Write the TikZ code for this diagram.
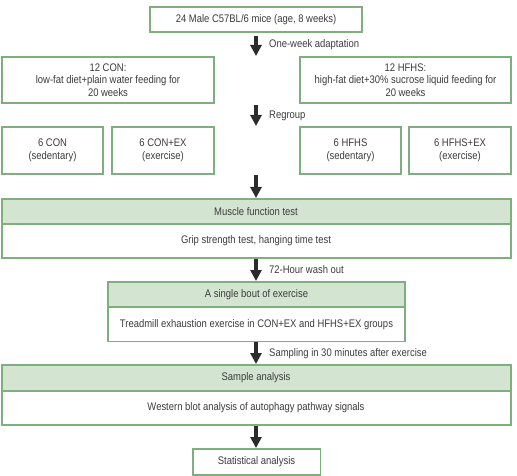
\documentclass[tikz,border=0pt]{standalone}
\usepackage{fontspec}
\setmainfont{Liberation Sans}[FakeStretch=0.86]
\usetikzlibrary{arrows.meta}
\definecolor{bgreen}{HTML}{7FAE7F}
\definecolor{fgreen}{HTML}{D3E5D1}
\definecolor{txt}{HTML}{3C3C3C}
\definecolor{arr}{HTML}{2B2B2B}
\tikzset{
  box/.style={draw=bgreen, line width=1.1pt, fill=white},
  head/.style={draw=bgreen, line width=1.1pt, fill=fgreen},
  lbl/.style={text=txt, font=\fontsize{11}{12.5}\selectfont, align=center, inner sep=0pt},
  flow/.style={draw=arr, line width=3.2pt, -{Triangle[width=11pt,length=11pt]}, shorten >=0pt},
}
\begin{document}
\begin{tikzpicture}[x=1pt,y=-1pt]
\useasboundingbox (0,0) rectangle (517,476);
% top
\draw[box] (150,7) rectangle (362,32);
\node[lbl] (mice) at (256,19.5) {24 Male C57BL/6 mice (age, 8 weeks)};
% groups
\draw[box] (2,57) rectangle (214,103);
\node[lbl] (con) at (108,80) {12 CON:\\low-fat diet+plain water feeding for\\20 weeks};
\draw[box] (300,57) rectangle (511,103);
\node[lbl] (hfhs) at (405.5,80) {12 HFHS:\\high-fat diet+30\% sucrose liquid feeding for\\20 weeks};
\coordinate (a1s) at (256,36);
\coordinate (a1e) at (256,56);
\draw[flow] (a1s) -- (a1e);
\node[lbl, anchor=west] (l1) at (269,45) {One-week adaptation};
% regroup
\coordinate (a2s) at (256,105);
\coordinate (a2e) at (256,126);
\draw[flow] (a2s) -- (a2e);
\node[lbl, anchor=west] (l2) at (269,116) {Regroup};
% subgroups
\draw[box] (2,127) rectangle (103,174);
\node[lbl] (g1) at (52.5,150.5) {6 CON\\(sedentary)};
\draw[box] (112,127) rectangle (214,174);
\node[lbl] (g2) at (163,150.5) {6 CON+EX\\(exercise)};
\draw[box] (300,127) rectangle (401,174);
\node[lbl] (g3) at (350.5,150.5) {6 HFHS\\(sedentary)};
\draw[box] (409,127) rectangle (511,174);
\node[lbl] (g4) at (460,150.5) {6 HFHS+EX\\(exercise)};
\coordinate (a3s) at (256,175);
\coordinate (a3e) at (256,198);
\draw[flow] (a3s) -- (a3e);
% muscle function test
\draw[box] (2,224) rectangle (511,258);
\draw[head] (2,199) rectangle (511,224);
\node[lbl] (mft) at (256,211.5) {Muscle function test};
\node[lbl] (grip) at (256,241) {Grip strength test, hanging time test};
\coordinate (a4s) at (256,259);
\coordinate (a4e) at (256,281);
\draw[flow] (a4s) -- (a4e);
\node[lbl, anchor=west] (l4) at (269,270) {72-Hour wash out};
% single bout
\draw[box] (108,307) rectangle (405,341.5);
\draw[head] (108,282) rectangle (405,307);
\node[lbl] (sbe) at (256.5,294.5) {A single bout of exercise};
\node[lbl] (tre) at (256.5,324.5) {Treadmill exhaustion exercise in CON+EX and HFHS+EX groups};
\coordinate (a5s) at (256,342);
\coordinate (a5e) at (256,364);
\draw[flow] (a5s) -- (a5e);
\node[lbl, anchor=west] (l5) at (269,353.5) {Sampling in 30 minutes after exercise};
% sample analysis
\draw[box] (2,391) rectangle (511,425);
\draw[head] (2,365) rectangle (511,391);
\node[lbl] (sa) at (256,378) {Sample analysis};
\node[lbl] (wb) at (256,408) {Western blot analysis of autophagy pathway signals};
\coordinate (a6s) at (256,426);
\coordinate (a6e) at (256,448);
\draw[flow] (a6s) -- (a6e);
% statistical
\draw[box] (193,449) rectangle (320.5,475);
\node[lbl] (stat) at (256.5,462) {Statistical analysis};
\end{tikzpicture}
\end{document}
